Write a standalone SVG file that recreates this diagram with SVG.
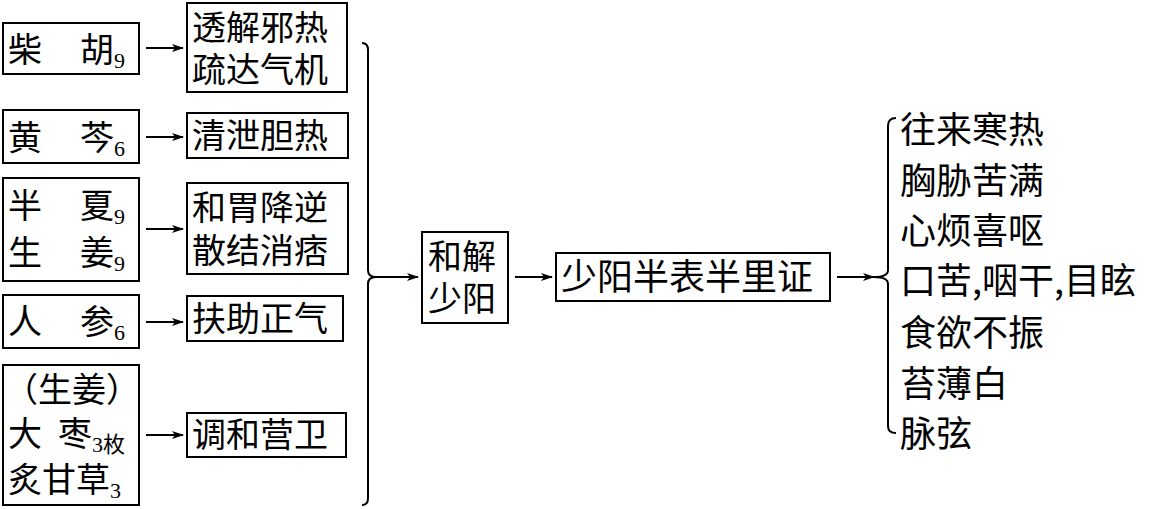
<svg xmlns="http://www.w3.org/2000/svg" width="1161" height="509" viewBox="0 0 1161 509">
<style>
text{font-family:"Noto Sans CJK SC",sans-serif;font-size:34px;fill:#000}
.b{font-size:36px}
.s{font-size:22px;font-family:"Liberation Serif","Noto Sans CJK SC",serif}
rect{fill:#fff;stroke:#000;stroke-width:2}
.c path,.c line{stroke:#000;stroke-width:2;fill:none}
</style>
<defs><marker id="a" markerWidth="12" markerHeight="8" refX="11" refY="4" orient="auto" markerUnits="userSpaceOnUse"><path d="M0,0 L12,4 L0,8 L3,4 Z" fill="#000"/></marker></defs>
<g id="n1"><rect x="3" y="23" width="136" height="51"/><text x="8" y="62">柴</text><text x="80" y="62">胡<tspan class="s" dy="6">9</tspan></text></g>
<g id="n2"><rect x="187" y="3" width="160" height="89"/><text x="192" y="40">透解邪热</text><text x="192" y="82">疏达气机</text></g>
<g id="n3"><rect x="3" y="110" width="136" height="53"/><text x="8" y="150">黄</text><text x="80" y="150">芩<tspan class="s" dy="6">6</tspan></text></g>
<g id="n4"><rect x="187" y="113" width="161" height="45"/><text x="192" y="148">清泄胆热</text></g>
<g id="n5"><rect x="3" y="178" width="136" height="103"/><text x="8" y="218">半</text><text x="80" y="218">夏<tspan class="s" dy="6">9</tspan></text><text x="8" y="265">生</text><text x="80" y="265">姜<tspan class="s" dy="6">9</tspan></text></g>
<g id="n6"><rect x="187" y="183" width="161" height="91"/><text x="192" y="220">和胃降逆</text><text x="192" y="263">散结消痞</text></g>
<g id="n7"><rect x="3" y="295" width="136" height="53"/><text x="8" y="334">人</text><text x="80" y="334">参<tspan class="s" dy="6">6</tspan></text></g>
<g id="n8"><rect x="187" y="296" width="156" height="45"/><text x="192" y="331">扶助正气</text></g>
<g id="n9"><rect x="3" y="365" width="136" height="140"/><text x="4" y="402">（生姜）</text><text x="8" y="446">大</text><text x="58" y="446">枣<tspan class="s" dy="6">3枚</tspan></text><text x="8" y="492">炙甘草<tspan class="s" dy="6">3</tspan></text></g>
<g id="n10"><rect x="187" y="413" width="159" height="44"/><text x="192" y="447">调和营卫</text></g>
<g id="n11"><rect x="422" y="232" width="86" height="91"/><text x="428" y="269">和解</text><text x="428" y="311">少阳</text></g>
<g id="n12"><rect x="556" y="253" width="274" height="48"/><text class="b" x="561" y="290">少阳半表半里证</text></g>
<g id="n13"><text class="b" x="900" y="143">往来寒热</text><text class="b" x="900" y="194">胸胁苦满</text><text class="b" x="900" y="244">心烦喜呕</text><text class="b" x="900" y="294">口苦,咽干,目眩</text><text class="b" x="900" y="346">食欲不振</text><text class="b" x="900" y="397">苔薄白</text><text class="b" x="900" y="447">脉弦</text></g>
<g class="c">
<line x1="146" y1="48" x2="183" y2="48" marker-end="url(#a)"/>
<line x1="146" y1="137" x2="183" y2="137" marker-end="url(#a)"/>
<line x1="146" y1="229" x2="183" y2="229" marker-end="url(#a)"/>
<line x1="146" y1="322" x2="183" y2="322" marker-end="url(#a)"/>
<line x1="146" y1="435" x2="183" y2="435" marker-end="url(#a)"/>
<path d="M362,43 Q368,43 368,50 L368,270 Q368,277 376,277 Q368,277 368,284 L368,498 Q368,505 362,505"/>
<line x1="376" y1="277" x2="418" y2="277" marker-end="url(#a)"/>
<line x1="515" y1="277" x2="552" y2="277" marker-end="url(#a)"/>
<line x1="837" y1="277" x2="874" y2="277" marker-end="url(#a)"/>
<path d="M896,118 Q888,118 888,126 L888,270 Q888,277 874,277 Q888,277 888,284 L888,426 Q888,433 896,433"/>
</g>
</svg>
